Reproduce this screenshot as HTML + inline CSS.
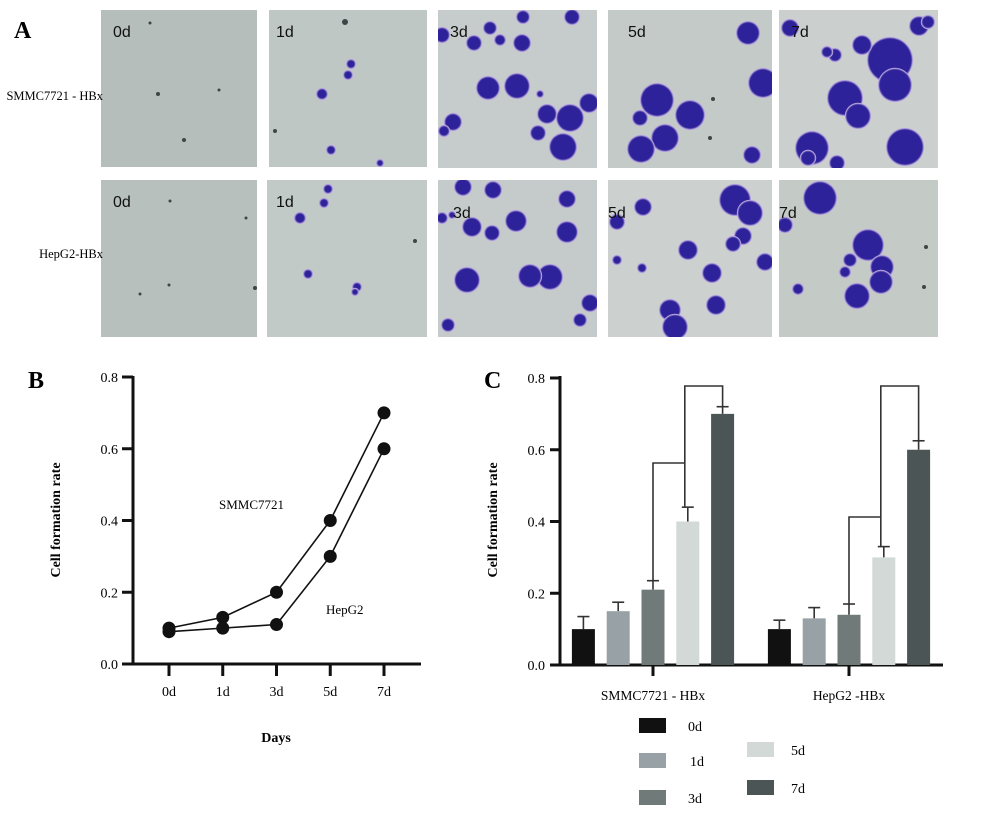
<!DOCTYPE html>
<html><head><meta charset="utf-8"><style>
html,body{margin:0;padding:0;background:#fff;width:1000px;height:826px;overflow:hidden}
svg{display:block}
.serif{font-family:"Liberation Serif",serif}
.sans{font-family:"Liberation Sans",sans-serif}
</style></head><body>
<svg id="fig" width="1000" height="826" viewBox="0 0 1000 826">
<defs>
<filter id="blur" x="-20%" y="-20%" width="140%" height="140%"><feGaussianBlur stdDeviation="0.6"/></filter>
</defs>
<g id="panelA">
<g id="micro"></g>
<text x="14" y="38" class="serif" font-size="24" font-weight="bold">A</text>
<text x="103" y="100" class="serif" font-size="12.5" text-anchor="end">SMMC7721 - HBx</text>
<text x="103" y="258" class="serif" font-size="12.5" text-anchor="end">HepG2-HBx</text>
</g>
<g id="panelB"></g>
<g id="panelC"></g>
</svg>
<script>
const NS='http://www.w3.org/2000/svg';
function mk(tag,attrs,parent,txt){const e=document.createElementNS(NS,tag);for(const k in attrs)e.setAttribute(k,attrs[k]);if(txt!==undefined)e.textContent=txt;parent.appendChild(e);return e;}

// ---------- Panel A micrographs ----------
const micro=document.getElementById('micro');
const tiles=[
 {x:101,y:10,w:156,h:157,bg:'#b5bebb',lab:'0d',lx:113,ly:37,b:[[158,94,2,1],[184,140,2,1],[150,23,1.5,1],[219,90,1.5,1]]},
 {x:269,y:10,w:158,h:157,bg:'#bfc7c5',lab:'1d',lx:276,ly:37,b:[[322,94,5,0],[348,75,4,0],[351,64,4,0],[331,150,4,0],[380,163,3,0],[345,22,3,1],[275,131,2,1]]},
 {x:438,y:10,w:159,h:158,bg:'#c6cccb',lab:'3d',lx:450,ly:37,b:[[442,35,7,0],[474,43,7,0],[490,28,6,0],[500,40,5,0],[523,17,6,0],[522,43,8,0],[572,17,7,0],[488,88,11,0],[517,86,12,0],[540,94,3,0],[547,114,9,0],[570,118,13,0],[589,103,9,0],[538,133,7,0],[563,147,13,0],[453,122,8,0],[444,131,5,0]]},
 {x:608,y:10,w:164,h:158,bg:'#c3cac8',lab:'5d',lx:628,ly:37,b:[[748,33,11,0],[657,100,16,0],[690,115,14,0],[640,118,7,0],[665,138,13,0],[641,149,13,0],[763,83,14,0],[752,155,8,0],[713,99,2,1],[710,138,2,1]]},
 {x:779,y:10,w:159,h:158,bg:'#cbd0ce',lab:'7d',lx:791,ly:37,b:[[890,60,22,0],[895,85,16,0],[845,98,17,0],[858,116,12,0],[812,148,16,0],[905,147,18,0],[862,45,9,0],[919,26,9,0],[835,55,6,0],[827,52,5,0],[790,28,8,0],[808,158,7,0],[837,163,7,0],[928,22,6,0]]},
 {x:101,y:180,w:156,h:157,bg:'#b7c0bd',lab:'0d',lx:113,ly:207,b:[[170,201,1.5,1],[246,218,1.5,1],[169,285,1.5,1],[255,288,2,1],[140,294,1.5,1]]},
 {x:267,y:180,w:160,h:157,bg:'#c2cac8',lab:'1d',lx:276,ly:207,b:[[300,218,5,0],[324,203,4,0],[328,189,4,0],[308,274,4,0],[357,287,4,0],[355,292,3,0],[415,241,2,1]]},
 {x:438,y:180,w:159,h:157,bg:'#c5cbcb',lab:'3d',lx:453,ly:218,b:[[463,187,8,0],[493,190,8,0],[567,199,8,0],[567,232,10,0],[516,221,10,0],[550,277,12,0],[467,280,12,0],[530,276,11,0],[492,233,7,0],[472,227,9,0],[590,303,8,0],[580,320,6,0],[448,325,6,0],[442,218,5,0],[452,215,3,0]]},
 {x:608,y:180,w:164,h:157,bg:'#ccd1cf',lab:'5d',lx:608,ly:218,b:[[735,200,15,0],[750,213,12,0],[643,207,8,0],[617,222,7,0],[688,250,9,0],[712,273,9,0],[716,305,9,0],[670,310,10,0],[675,327,12,0],[743,236,8,0],[733,244,7,0],[765,262,8,0],[617,260,4,0],[642,268,4,0]]},
 {x:779,y:180,w:159,h:157,bg:'#c4cac6',lab:'7d',lx:779,ly:218,b:[[820,198,16,0],[868,245,15,0],[882,267,11,0],[881,282,11,0],[857,296,12,0],[798,289,5,0],[850,260,6,0],[845,272,5,0],[785,225,7,0],[926,247,2,1],[924,287,2,1]]}
];
tiles.forEach((t,i)=>{
  const g=mk('g',{},micro);
  
  
  mk('rect',{x:t.x,y:t.y,width:t.w,height:t.h,fill:t.bg},g);
  const cp='cp'+i;
  const c=mk('clipPath',{id:cp},g);mk('rect',{x:t.x,y:t.y,width:t.w,height:t.h},c);
  const bg=mk('g',{'clip-path':'url(#'+cp+')'},g);
  t.b.forEach(b=>{
    if(b[3]){mk('circle',{cx:b[0],cy:b[1],r:b[2],fill:'#3f4447'},bg);}
    else{mk('circle',{cx:b[0],cy:b[1],r:b[2]+1.2,fill:'#c4b3e4'},bg);
      mk('circle',{cx:b[0],cy:b[1],r:b[2],fill:'#2f239a',filter:'url(#blur)'},bg);}
  });
  const tx=mk('text',{x:t.lx,y:t.ly,'font-size':'16',fill:'#111',class:'sans'},g,t.lab);
  
  
});

// ---------- Panel B data ----------
const bDays=['0d','1d','3d','5d','7d'];
const bSmmc=[0.10,0.13,0.20,0.40,0.70];
const bHep=[0.09,0.10,0.11,0.30,0.60];
const bTicks=[0.0,0.2,0.4,0.6,0.8];
// ---------- Panel C data ----------
const cGroups=['SMMC7721 - HBx','HepG2 -HBx'];
const cSeries=['0d','1d','3d','5d','7d'];
const cSmmc=[0.10,0.15,0.21,0.40,0.70];
const cSmmcErr=[0.035,0.025,0.025,0.04,0.02];
const cHep=[0.10,0.13,0.14,0.30,0.60];
const cHepErr=[0.025,0.03,0.03,0.03,0.025];
const cTicks=[0.0,0.2,0.4,0.6,0.8];

// Panel B
(function(){
const P=document.getElementById('panelB');
const y=v=>664-v*(664-377)/0.8;
const x=i=>169+i*53.75;
const st={stroke:'#111','stroke-width':3,fill:'none'};
let t=mk('text',{x:28,y:388,class:'serif','font-size':24,'font-weight':'bold'},P,'B');

let a=mk('line',Object.assign({x1:133,y1:376,x2:133,y2:665},st),P);

a=mk('line',Object.assign({x1:122,y1:664,x2:421,y2:664},st),P);

bTicks.forEach(v=>{mk('line',Object.assign({x1:122,y1:y(v),x2:133,y2:y(v)},st),P);
  const l=mk('text',{x:118,y:y(v)+5,'text-anchor':'end',class:'serif','font-size':14},P,v.toFixed(1));
  });
bDays.forEach((d,i)=>{mk('line',Object.assign({x1:x(i),y1:664,x2:x(i),y2:676},st),P);
  const l=mk('text',{x:x(i),y:696,'text-anchor':'middle',class:'serif','font-size':14},P,d);
  });
t=mk('text',{x:276,y:742,'text-anchor':'middle',class:'serif','font-size':14,'font-weight':'bold'},P,'Days');

t=mk('text',{x:0,y:0,transform:'translate(60,520) rotate(-90)','text-anchor':'middle',class:'serif','font-size':14,'font-weight':'bold'},P,'Cell formation rate');

[[bSmmc,'smmc7721'],[bHep,'hepg2']].forEach(([s,n])=>{
  const pl=mk('polyline',{points:s.map((v,i)=>x(i)+','+y(v)).join(' '),stroke:'#111','stroke-width':1.6,fill:'none'},P);
  
  s.forEach((v,i)=>{const c=mk('circle',{cx:x(i),cy:y(v),r:6.5,fill:'#111'},P);
    });
});
t=mk('text',{x:219,y:509,class:'serif','font-size':13},P,'SMMC7721');

t=mk('text',{x:326,y:614,class:'serif','font-size':13},P,'HepG2');

})();

// Panel C
(function(){
const P=document.getElementById('panelC');
const y=v=>665-v*(665-378)/0.8;
const gc=[653,849];
const colors=['#111111','#98a1a6','#707b79','#d3d9d7','#4b5556'];
const st={stroke:'#111','stroke-width':3,fill:'none'};
let t=mk('text',{x:484,y:388,class:'serif','font-size':24,'font-weight':'bold'},P,'C');

let a=mk('line',Object.assign({x1:560,y1:376,x2:560,y2:666},st),P);

a=mk('line',Object.assign({x1:550,y1:665,x2:943,y2:665},st),P);

cTicks.forEach(v=>{mk('line',Object.assign({x1:550,y1:y(v),x2:560,y2:y(v)},st),P);
  const l=mk('text',{x:545,y:y(v)+5,'text-anchor':'end',class:'serif','font-size':14},P,v.toFixed(1));
  });
t=mk('text',{x:0,y:0,transform:'translate(497,520) rotate(-90)','text-anchor':'middle',class:'serif','font-size':14,'font-weight':'bold'},P,'Cell formation rate');

const bx=(g,i)=>gc[g]+(i-2)*34.8;
[[cSmmc,cSmmcErr],[cHep,cHepErr]].forEach(([vals,errs],g)=>{
  mk('line',Object.assign({x1:gc[g],y1:665,x2:gc[g],y2:676},st),P);
  const l=mk('text',{x:gc[g],y:700,'text-anchor':'middle',class:'serif','font-size':13.5},P,cGroups[g]);
  
  vals.forEach((v,i)=>{
    const cx=bx(g,i);
    const top=y(v+errs[i]);
    mk('line',{x1:cx,y1:y(v),x2:cx,y2:top,stroke:'#333','stroke-width':1.6},P);
    mk('line',{x1:cx-6,y1:top,x2:cx+6,y2:top,stroke:'#333','stroke-width':1.6},P);
    const r=mk('rect',{x:cx-11.5,y:y(v),width:23,height:665-y(v),fill:colors[i]},P);
    
    
  });
  const midY=g===0?463:517;
  const x3=bx(g,2),x5=bx(g,3)-3,x7=bx(g,4);
  const b1=mk('polyline',{points:`${x3},${y(vals[2]+errs[2])} ${x3},${midY} ${x5},${midY} ${x5},${y(vals[3]+errs[3])}`,stroke:'#333','stroke-width':1.6,fill:'none'},P);
  
  const b2=mk('polyline',{points:`${x5},${midY} ${x5},386 ${x7},386 ${x7},${y(vals[4]+errs[4])}`,stroke:'#333','stroke-width':1.6,fill:'none'},P);
  
});
const leg=[[639,718,692],[639,753,694],[639,790,692],[747,742,795],[747,780,795]];
cSeries.forEach((s,i)=>{
  const [lx,ly,tx]=leg[i];
  const r=mk('rect',{x:lx,y:ly,width:27,height:15,fill:colors[i]},P);
  
  const l=mk('text',{x:tx-4,y:ly+13,class:'serif','font-size':14},P,s);
  
});
})();
</script>
</body></html>
